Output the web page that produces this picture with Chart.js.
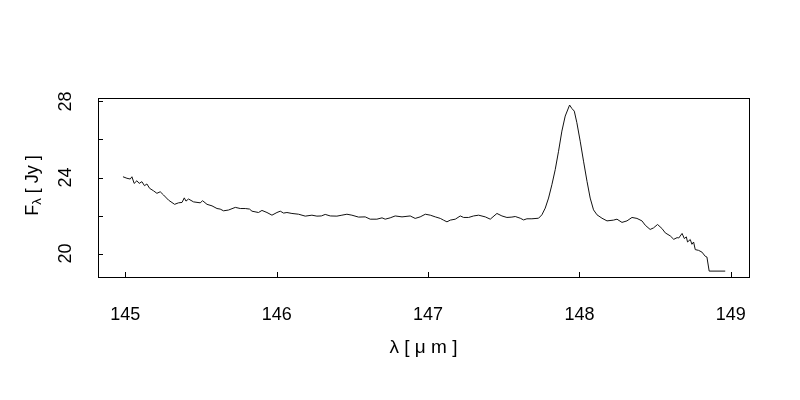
<!DOCTYPE html>
<html>
<head>
<meta charset="utf-8">
<script src="https://cdn.jsdelivr.net/npm/chart.js@4/dist/chart.umd.min.js"></script>
<style>
  html, body { margin: 0; padding: 0; background: #fff; }
  canvas { display: block; }
</style>
</head>
<body>
<canvas id="spectrum" width="800" height="400"></canvas>
<script>
// wavelength (micron) and flux density (Jy)
const WAVELENGTH = [
  144.985, 145.011, 145.033, 145.044, 145.059, 145.077, 145.092, 145.110, 145.127, 145.143,
  145.161, 145.187, 145.209, 145.231, 145.253, 145.286, 145.326, 145.352, 145.375, 145.390,
  145.401, 145.418, 145.451, 145.495, 145.511, 145.540, 145.573, 145.606, 145.627, 145.649,
  145.682, 145.727, 145.760, 145.793, 145.821, 145.837, 145.880, 145.903, 145.936, 145.969,
  146.002, 146.024, 146.046, 146.068, 146.101, 146.145, 146.189, 146.233, 146.266, 146.295,
  146.321, 146.354, 146.398, 146.431, 146.464, 146.497, 146.541, 146.585, 146.618, 146.662,
  146.696, 146.717, 146.750, 146.783, 146.828, 146.882, 146.915, 146.948, 146.982, 147.015,
  147.048, 147.081, 147.102, 147.125, 147.147, 147.180, 147.213, 147.235, 147.268, 147.301,
  147.334, 147.378, 147.411, 147.455, 147.488, 147.521, 147.554, 147.576, 147.609, 147.631,
  147.653, 147.686, 147.730, 147.752, 147.774, 147.796, 147.818, 147.840, 147.862, 147.884,
  147.906, 147.935, 147.950, 147.966, 147.983, 148.005, 148.027, 148.050, 148.071, 148.093,
  148.116, 148.149, 148.182, 148.225, 148.248, 148.281, 148.314, 148.347, 148.380, 148.413,
  148.435, 148.467, 148.489, 148.516, 148.545, 148.567, 148.600, 148.623, 148.645, 148.656,
  148.678, 148.693, 148.706, 148.714, 148.732, 148.743, 148.754, 148.765, 148.787, 148.809,
  148.831, 148.842, 148.857, 148.963
];

const FLUX = [
  24.04, 23.96, 23.92, 24.04, 23.69, 23.83, 23.69, 23.78, 23.57, 23.66,
  23.43, 23.30, 23.17, 23.25, 23.08, 22.81, 22.59, 22.67, 22.69, 22.93,
  22.76, 22.87, 22.72, 22.67, 22.78, 22.59, 22.51, 22.37, 22.34, 22.25,
  22.29, 22.43, 22.37, 22.37, 22.34, 22.23, 22.16, 22.27, 22.16, 22.02,
  22.16, 22.23, 22.13, 22.16, 22.11, 22.07, 21.97, 22.02, 21.97, 21.98,
  22.06, 21.98, 21.97, 22.02, 22.07, 22.02, 21.92, 21.93, 21.81, 21.81,
  21.88, 21.81, 21.88, 21.98, 21.93, 21.98, 21.85, 21.93, 22.07, 22.02,
  21.93, 21.85, 21.76, 21.67, 21.76, 21.81, 21.98, 21.90, 21.90, 21.98,
  22.02, 21.93, 21.81, 22.11, 21.98, 21.90, 21.92, 21.95, 21.86, 21.77,
  21.83, 21.83, 21.86, 22.04, 22.39, 22.92, 23.62, 24.41, 25.38, 26.44,
  27.23, 27.81, 27.63, 27.49, 26.88, 25.91, 24.86, 23.80, 22.92, 22.30,
  22.04, 21.86, 21.72, 21.76, 21.81, 21.64, 21.72, 21.90, 21.85, 21.72,
  21.49, 21.27, 21.35, 21.53, 21.32, 21.09, 20.93, 20.75, 20.84, 20.82,
  21.06, 20.79, 20.88, 20.61, 20.74, 20.49, 20.61, 20.21, 20.17, 20.08,
  19.86, 19.82, 19.08, 19.08
];

const X_TICKS = [145, 146, 147, 148, 149];
const Y_TICKS = [20, 22, 24, 26, 28];
const Y_LABELLED = [20, 24, 28];

const FONT = 'Liberation Sans, Arial, Helvetica, sans-serif';

// R-style box round the plot plus inward tick marks
const boxPlugin = {
  id: 'rbox',
  afterDraw(chart) {
    const { ctx, chartArea: a, scales } = chart;
    ctx.save();
    ctx.strokeStyle = '#000';
    ctx.lineWidth = 1;
    ctx.strokeRect(Math.round(a.left) + 0.5, Math.round(a.top) + 0.5,
      Math.round(a.right - a.left), Math.round(a.bottom - a.top));
    ctx.beginPath();
    scales.x.ticks.forEach((t) => {
      const px = Math.round(scales.x.getPixelForValue(t.value)) + 0.5;
      ctx.moveTo(px, a.bottom);
      ctx.lineTo(px, a.bottom - 5);
    });
    scales.y.ticks.forEach((t) => {
      const py = Math.round(scales.y.getPixelForValue(t.value)) + 0.5;
      ctx.moveTo(a.left, py);
      ctx.lineTo(a.left + 5, py);
    });
    ctx.stroke();

    // y title with subscript lambda
    const big = '18px ' + FONT;
    const small = '13px ' + FONT;
    const parts = [['F', big, 0], ['λ', small, 4], [' [ Jy ]', big, 0]];
    let total = 0;
    parts.forEach(([s, f]) => { ctx.font = f; total += ctx.measureText(s).width; });
    ctx.translate(33, (a.top + a.bottom) / 2 - 2);
    ctx.rotate(-Math.PI / 2);
    ctx.fillStyle = '#000';
    ctx.textBaseline = 'middle';
    ctx.textAlign = 'left';
    let x = -total / 2;
    parts.forEach(([s, f, dy]) => {
      ctx.font = f;
      ctx.fillText(s, x, dy);
      x += ctx.measureText(s).width;
    });
    ctx.restore();
  },
};

new Chart(document.getElementById('spectrum'), {
  type: 'line',
  data: {
    datasets: [{
      data: WAVELENGTH.map((w, i) => ({ x: w, y: FLUX[i] })),
      borderColor: '#111',
      borderWidth: 1,
      pointRadius: 0,
      tension: 0,
      fill: false,
    }],
  },
  options: {
    responsive: false,
    animation: false,
    devicePixelRatio: 1,
    layout: { padding: { top: 98, right: 51, left: 0, bottom: 0 } },
    plugins: { legend: { display: false }, tooltip: { enabled: false } },
    scales: {
      x: {
        type: 'linear',
        min: 144.82,
        max: 149.12,
        afterBuildTicks: (s) => { s.ticks = X_TICKS.map((v) => ({ value: v })); },
        afterFit: (s) => { s.height = 123; },
        grid: { display: false, drawTicks: false },
        border: { display: false },
        ticks: {
          padding: 27,
          color: '#000',
          font: { family: FONT, size: 18 },
          callback: (v) => String(v),
        },
        title: {
          display: true,
          text: 'λ [ μ m ]',
          color: '#000',
          font: { family: FONT, size: 19 },
          padding: { bottom: 41 },
        },
      },
      y: {
        min: 18.77,
        max: 28.18,
        afterBuildTicks: (s) => { s.ticks = Y_TICKS.map((v) => ({ value: v })); },
        afterFit: (s) => { s.width = 98; },
        grid: { display: false, drawTicks: false },
        border: { display: false },
        ticks: {
          autoSkip: false,
          minRotation: 90,
          maxRotation: 90,
          crossAlign: 'center',
          padding: 22,
          color: '#000',
          font: { family: FONT, size: 18 },
          callback: (v) => (Y_LABELLED.includes(v) ? String(v) : ''),
        },
      },
    },
  },
  plugins: [boxPlugin],
});
</script>
</body>
</html>
